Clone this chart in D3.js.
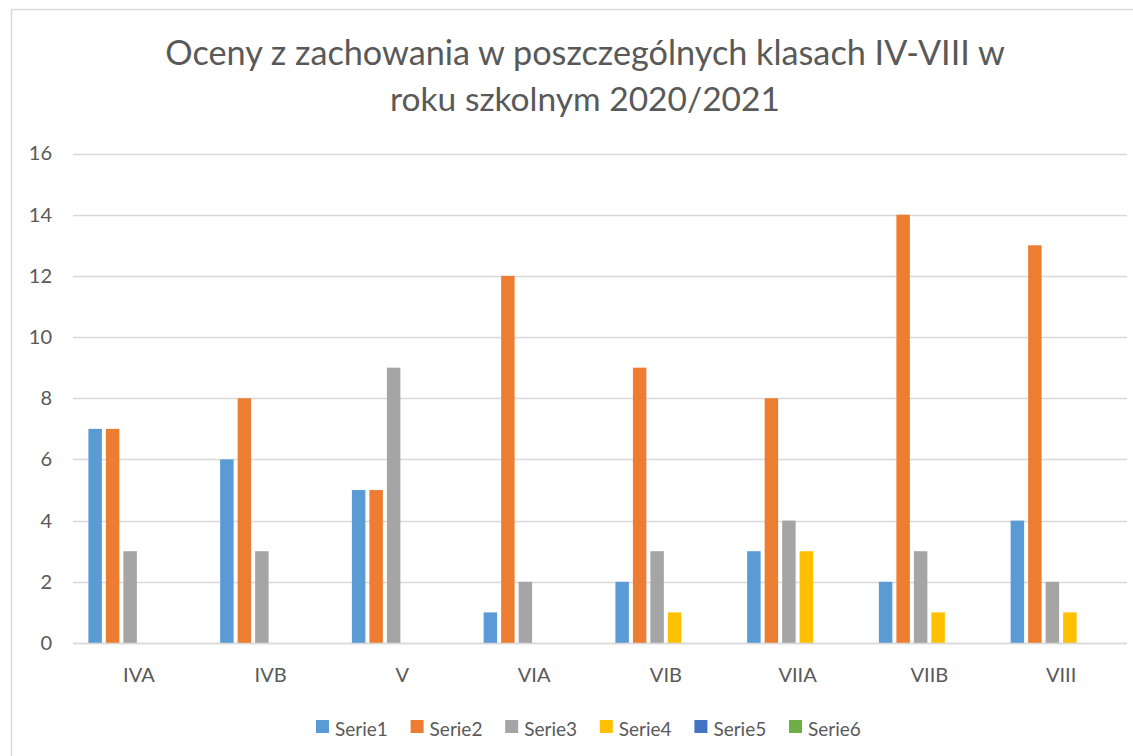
<!doctype html>
<html lang="pl">
  <head>
    <meta charset="utf-8">
    <title>Oceny z zachowania</title>
    <style>
      body { margin: 0; background: #fff; }
      text { font-family: Lato, "Open Sans", sans-serif; fill: #595959; }
    </style>
  </head>
  <body>
    <div id="chart"></div>

    <script src="https://d3js.org/d3.v7.min.js"></script>
    <script>
      // Data
      var categories = ["IVA", "IVB", "V", "VIA", "VIB", "VIIA", "VIIB", "VIII"];
      var seriesNames = ["Serie1", "Serie2", "Serie3", "Serie4", "Serie5", "Serie6"];
      var serie1 = [7, 6, 5, 1, 2, 3, 2, 4];
      var serie2 = [7, 8, 5, 12, 9, 8, 14, 13];
      var serie3 = [3, 3, 9, 2, 3, 4, 3, 2];
      var serie4 = [null, null, null, null, 1, 3, 1, 1];
      var serie5 = [null, null, null, null, null, null, null, null];
      var serie6 = [null, null, null, null, null, null, null, null];
      var yTicks = [0, 2, 4, 6, 8, 10, 12, 14, 16];
      var colors = ["#5B9BD5", "#ED7D31", "#A5A5A5", "#FFC000", "#4472C4", "#70AD47"];
      var titleLines = ["Oceny z zachowania w poszczególnych klasach IV-VIII w", "roku szkolnym 2020/2021"];

      var allSeries = [serie1, serie2, serie3, serie4, serie5, serie6];

      var W = 1133, H = 756;
      var plot = {left: 73, right: 1127, top: 153.5, bottom: 643};

      var svg = d3.select("#chart")
        .append("svg")
        .attr("width", W)
        .attr("height", H);

      // chart area border (right and bottom edges fall outside the picture)
      svg.append("path")
        .attr("d", "M11.5," + H + "V9.5H" + W)
        .attr("fill", "none")
        .attr("stroke", "#D9D9D9")
        .attr("stroke-width", 1.5);

      // Title, each line fitted to the width it has in the picture
      var titleWidths = [840, 390];
      svg.selectAll(".title")
        .data(titleLines)
        .enter()
        .append("text")
        .attr("class", "title")
        .attr("x", 585)
        .attr("y", function(d, i) { return 65 + i * 46; })
        .attr("text-anchor", "middle")
        .attr("font-size", 100)
        .text(function(d) { return d; })
        .each(function(d, i) {
          var len = this.getComputedTextLength();
          d3.select(this).attr("font-size", 100 * titleWidths[i] / len);
        });

      // Scales
      var y = d3.scaleLinear()
        .domain([0, 16])
        .range([plot.bottom, plot.top]);

      var x0 = d3.scaleBand()
        .domain(categories)
        .range([plot.left, plot.right]);

      var x1 = d3.scaleBand()
        .domain(seriesNames)
        .range([0, x0.bandwidth()])
        .paddingInner(0.23)
        .paddingOuter(0.88);

      // Gridlines
      svg.append("g")
        .selectAll("line")
        .data(yTicks)
        .enter()
        .append("line")
        .attr("x1", plot.left)
        .attr("x2", plot.right)
        .attr("y1", function(d) { return Math.round(y(d)) + 0.5; })
        .attr("y2", function(d) { return Math.round(y(d)) + 0.5; })
        .attr("stroke", "#D9D9D9")
        .attr("stroke-width", 1.5);

      // Y axis labels
      var yAxis = svg.append("g")
        .attr("transform", "translate(" + (plot.left - 21) + ",0)")
        .call(d3.axisLeft(y).tickValues(yTicks).tickSize(0).tickPadding(0));
      yAxis.select(".domain").remove();
      yAxis.selectAll("text")
        .attr("font-size", "20px")
        .attr("fill", "#595959")
        .attr("font-family", "Lato, sans-serif");

      // Bars
      var rows = [];
      categories.forEach(function(c, ci) {
        allSeries.forEach(function(s, si) {
          if (s[ci] != null) rows.push({cat: c, name: seriesNames[si], value: s[ci], color: colors[si]});
        });
      });

      svg.append("g")
        .selectAll("rect")
        .data(rows)
        .enter()
        .append("rect")
        .attr("x", function(d) { return x0(d.cat) + x1(d.name); })
        .attr("y", function(d) { return y(d.value); })
        .attr("width", x1.bandwidth())
        .attr("height", function(d) { return y(0) - y(d.value); })
        .attr("fill", function(d) { return d.color; });

      // baseline over the bars
      svg.append("line")
        .attr("x1", plot.left)
        .attr("x2", plot.right)
        .attr("y1", Math.round(y(0)) + 0.5)
        .attr("y2", Math.round(y(0)) + 0.5)
        .attr("stroke", "#D9D9D9")
        .attr("stroke-width", 1.5);

      // X axis labels
      var xAxis = svg.append("g")
        .attr("transform", "translate(0," + (plot.bottom + 25) + ")")
        .call(d3.axisBottom(x0).tickSize(0).tickPadding(0));
      xAxis.select(".domain").remove();
      xAxis.selectAll("text")
        .attr("font-size", "20px")
        .attr("fill", "#595959")
        .attr("font-family", "Lato, sans-serif");

      // Legend
      var legend = svg.append("g")
        .attr("transform", "translate(316,720)");

      var item = legend.selectAll(".item")
        .data(seriesNames)
        .enter()
        .append("g")
        .attr("class", "item")
        .attr("transform", function(d, i) { return "translate(" + (i * 94.6) + ",0)"; });

      item.append("rect")
        .attr("width", 13)
        .attr("height", 13)
        .attr("fill", function(d, i) { return colors[i]; });

      item.append("text")
        .attr("x", 19)
        .attr("y", 16)
        .attr("font-size", "19px")
        .text(function(d) { return d; });
    </script>
  </body>
</html>
